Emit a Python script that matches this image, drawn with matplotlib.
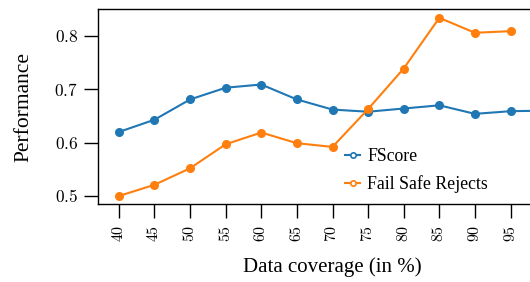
import matplotlib
matplotlib.use("Agg")
import matplotlib.pyplot as plt
from matplotlib.ticker import FuncFormatter, FixedLocator

coverage = [40, 45, 50, 55, 60, 65, 70, 75, 80, 85, 90, 95, 100]
fscore = [0.620, 0.643, 0.681, 0.703, 0.709, 0.681, 0.662, 0.658, 0.664, 0.670, 0.654, 0.659, 0.660]
coverage_fsr = [40, 45, 50, 55, 60, 65, 70, 75, 80, 85, 90, 95]
fail_safe = [0.500, 0.521, 0.552, 0.597, 0.619, 0.599, 0.592, 0.663, 0.739, 0.834, 0.806, 0.809]
xticks = [40, 45, 50, 55, 60, 65, 70, 75, 80, 85, 90, 95]
yticks = [0.5, 0.6, 0.7, 0.8]

plt.rcParams['font.family'] = ['Liberation Serif', 'DejaVu Serif']
plt.rcParams['mathtext.fontset'] = 'cm'

fig = plt.figure(figsize=(5.3, 2.82), dpi=100)
W, H = 530, 282
left, right, top, bottom = 97.5, 567.5, 9.3, 204
ax = fig.add_axes([left / W, 1 - bottom / H, (right - left) / W, (bottom - top) / H])

ax.plot(coverage, fscore, '-o', color='#1f77b4', lw=1.5, ms=5.5, label='FScore')
ax.plot(coverage_fsr, fail_safe, '-o', color='#ff7f0e', lw=1.5, ms=5.5, label='Fail Safe Rejects')

ax.set_xlim(37, 103)
ax.set_ylim(0.485, 0.85)
ax.xaxis.set_major_locator(FixedLocator(xticks))
ax.yaxis.set_major_locator(FixedLocator(yticks))
ax.xaxis.set_major_formatter(FuncFormatter(lambda v, p: f"${v:.0f}$"))
ax.yaxis.set_major_formatter(FuncFormatter(lambda v, p: f"${v:.1f}$"))
ax.tick_params(axis='x', labelrotation=90, length=10, width=1, labelsize=11.5, pad=5)
ax.tick_params(axis='y', length=10, width=1, labelsize=12.5, pad=4)
for s in ax.spines.values():
    s.set_linewidth(1)

ax.set_xlabel('Data coverage (in %)', fontsize=15, labelpad=11)
ax.set_ylabel('Performance', fontsize=15.5, labelpad=15)

leg = ax.legend(loc='lower left', bbox_to_anchor=((329 - left) / (right - left), -0.028),
                frameon=False, fontsize=12.8, markerscale=0.7, handlelength=0.85,
                handletextpad=0.4, labelspacing=0.6)
for h in leg.legend_handles:
    h.set_markerfacecolor('#ffffff')
    h.set_markeredgewidth(1.2)

fig.savefig('out.png', dpi=100)
